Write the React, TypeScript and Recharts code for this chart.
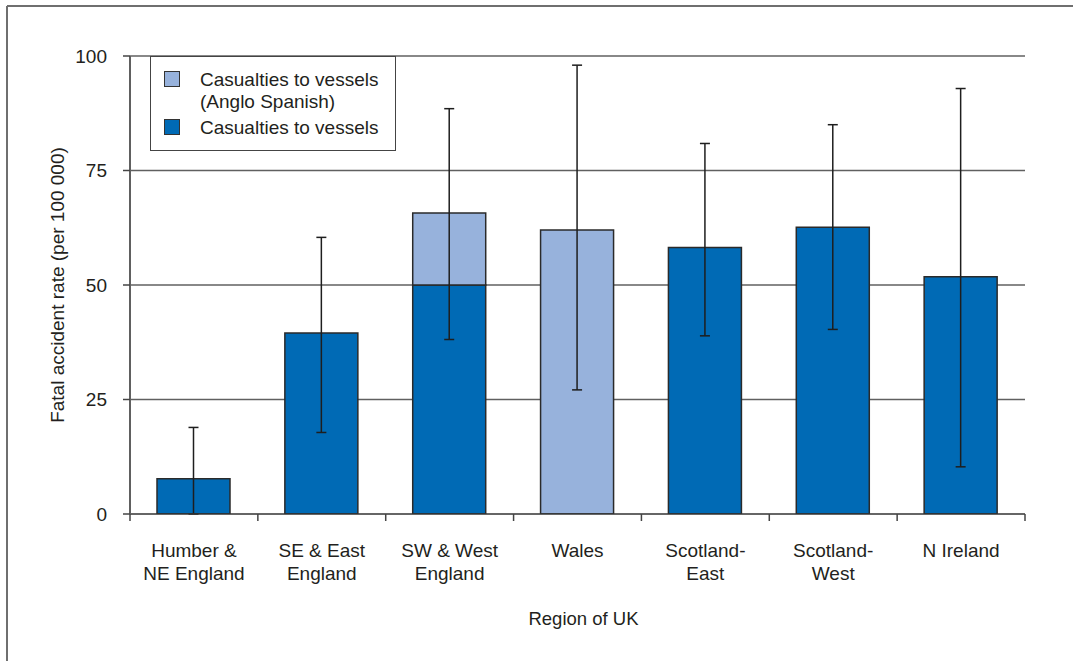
import React from 'react';
import { BarChart, Bar, XAxis, YAxis, CartesianGrid, ErrorBar, Legend } from 'recharts';

// Regions of the UK (line breaks mark the two-line axis labels)
const regions = [
  'Humber &\nNE England',
  'SE & East\nEngland',
  'SW & West\nEngland',
  'Wales',
  'Scotland-\nEast',
  'Scotland-\nWest',
  'N Ireland',
];

// Fatal accident rate per 100 000, casualties to vessels
const vesselRates = [7.7, 39.5, 50, 0, 58.2, 62.6, 51.8];
// Additional rate from the Anglo Spanish fleet
const angloSpanishRates = [0, 0, 15.7, 62.0, 0, 0, 0];
// 95% confidence limits of the combined rate
const lowerLimits = [0, 17.8, 38.1, 27.1, 38.9, 40.3, 10.3];
const upperLimits = [18.9, 60.4, 88.5, 98.0, 80.9, 85.0, 92.9];

const yTicks = [0, 25, 50, 75, 100];

const seriesVessels = 'Casualties to vessels';
const seriesAngloSpanish = 'Casualties to vessels\n(Anglo Spanish)';

const DARK_BLUE = '#006AB5';
const LIGHT_BLUE = '#97B2DC';
const INK = '#231f20';
const FONT = '"Liberation Sans", Arial, sans-serif';

// Chart geometry
const W = 1073;
const H = 661;
const MARGIN = { top: 56, right: 48, bottom: 47, left: 70 };
const Y_AXIS_W = 60;
const X_AXIS_H = 100;
const PLOT_W = W - MARGIN.left - MARGIN.right - Y_AXIS_W;
const BAND = PLOT_W / regions.length;

// The confidence interval hangs off whichever segment forms the top of the stack
const rows = regions.map((region, i) => {
  const total = vesselRates[i] + angloSpanishRates[i];
  const ci = [total - lowerLimits[i], upperLimits[i] - total];
  const onAngloSpanish = angloSpanishRates[i] > 0;
  return {
    region,
    vessels: vesselRates[i],
    angloSpanish: angloSpanishRates[i],
    vesselsCi: onAngloSpanish ? null : ci,
    angloSpanishCi: onAngloSpanish ? ci : null,
  };
});

const legendItems = [
  { label: seriesAngloSpanish, color: LIGHT_BLUE },
  { label: seriesVessels, color: DARK_BLUE },
];

function RegionTick(props: any) {
  const { x, y, payload } = props;
  const half = BAND / 2;
  const lines = String(payload.value).split('\n');
  const isLast = payload.value === regions[regions.length - 1];
  return (
    <g>
      <line x1={x - half} y1={y} x2={x - half} y2={y + 7} stroke="#444" strokeWidth={1.5} />
      {isLast && <line x1={x + half} y1={y} x2={x + half} y2={y + 7} stroke="#444" strokeWidth={1.5} />}
      <text x={x} y={y} textAnchor="middle" fill={INK} fontSize={19} fontFamily={FONT}>
        {lines.map((line, i) => (
          <tspan key={i} x={x} dy={i === 0 ? 43 : 23}>
            {line}
          </tspan>
        ))}
      </text>
    </g>
  );
}

function LegendBox() {
  const baselines = [[30, 52], [78]];
  return (
    <div
      style={{
        position: 'relative',
        width: 246,
        height: 95,
        boxSizing: 'border-box',
        border: '1.5px solid #444',
        background: '#fff',
      }}
    >
      <svg width={246} height={95} style={{ position: 'absolute', left: -1.5, top: -1.5 }}>
        {legendItems.map((item, i) => {
          const lines = item.label.split('\n');
          const swatchTop = baselines[i][0] - 15;
          return (
            <g key={i}>
              <rect x={14.5} y={swatchTop + 0.5} width={15} height={15} fill={item.color} stroke="#333" strokeWidth={1} />
              {lines.map((line, j) => (
                <text key={j} x={50} y={baselines[i][j]} fill={INK} fontSize={19} fontFamily={FONT}>
                  {line}
                </text>
              ))}
            </g>
          );
        })}
      </svg>
    </div>
  );
}

const ciOf = (key: string) => (d: any) => {
  const src = d && d.payload ? d.payload : d;
  return src ? src[key] : null;
};

export default function App() {
  return (
    <div style={{ position: 'absolute', left: 0, top: 0, width: W, height: H, background: '#fff' }}>
      <BarChart width={W} height={H} data={rows} margin={MARGIN} barSize={73}>
        <CartesianGrid vertical={false} stroke="#606060" strokeWidth={1.6} horizontalValues={[25, 50, 75, 100]} />
        <XAxis
          dataKey="region"
          height={X_AXIS_H}
          axisLine={{ stroke: '#333', strokeWidth: 1.6 }}
          tickLine={false}
          tickSize={0}
          tickMargin={0}
          interval={0}
          tick={<RegionTick />}
        />
        <YAxis
          width={Y_AXIS_W}
          domain={[0, 100]}
          ticks={yTicks}
          allowDataOverflow
          axisLine={{ stroke: '#606060', strokeWidth: 2 }}
          tickLine={{ stroke: '#444', strokeWidth: 1.5 }}
          tickSize={7}
          tickMargin={16}
          tick={{ fill: INK, fontSize: 19, fontFamily: FONT }}
        />
        <Legend
          layout="vertical"
          align="center"
          verticalAlign="middle"
          wrapperStyle={{ position: 'absolute', left: 150, top: 56, width: 246, height: 95 }}
          content={() => <LegendBox />}
        />
        <Bar dataKey="vessels" name={seriesVessels} stackId="rate" fill={DARK_BLUE} stroke="#2a2a2a" strokeWidth={1.5} isAnimationActive={false}>
          <ErrorBar dataKey={ciOf('vesselsCi')} direction="y" width={5} stroke="#1e1e1e" strokeWidth={1.5} isAnimationActive={false} />
        </Bar>
        <Bar dataKey="angloSpanish" name={seriesAngloSpanish} stackId="rate" fill={LIGHT_BLUE} stroke="#2a2a2a" strokeWidth={1.5} isAnimationActive={false}>
          <ErrorBar dataKey={ciOf('angloSpanishCi')} direction="y" width={5} stroke="#1e1e1e" strokeWidth={1.5} isAnimationActive={false} />
        </Bar>
      </BarChart>
      <svg width={W} height={H} style={{ position: 'absolute', left: 0, top: 0, pointerEvents: 'none' }}>
        <line x1={7} y1={6} x2={W} y2={6} stroke="#6f6f6f" strokeWidth={2} />
        <line x1={7} y1={6} x2={7} y2={H} stroke="#6f6f6f" strokeWidth={2} />
        <text x={64} y={285} transform="rotate(-90, 64, 285)" textAnchor="middle" fill={INK} fontSize={19} fontFamily={FONT}>
          Fatal accident rate (per 100 000)
        </text>
        <text x={583.5} y={625} textAnchor="middle" fill={INK} fontSize={18.5} fontFamily={FONT}>
          Region of UK
        </text>
      </svg>
    </div>
  );
}
